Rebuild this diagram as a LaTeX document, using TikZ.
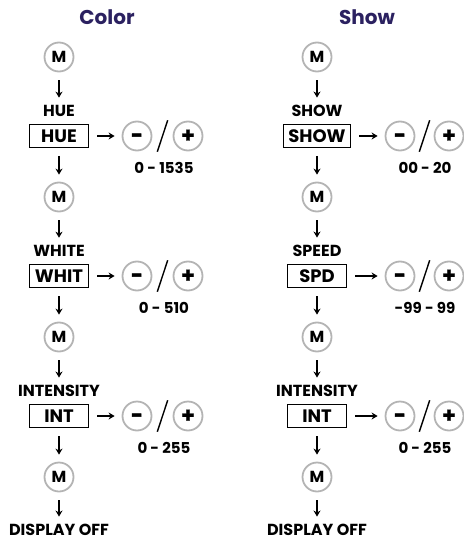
\documentclass[tikz,border=0pt]{standalone}
\usepackage{fontspec}
\setmainfont{Poppins}
\newfontfamily\keyfont{Poppins}[BoldFeatures={FakeBold=1.6}]
\usetikzlibrary{arrows.meta}
\definecolor{titleblue}{HTML}{2B2160}
\definecolor{ringgray}{HTML}{B4B4B4}
\begin{document}
\begin{tikzpicture}[x=1pt,y=-1pt,> = {Stealth[length=6pt,width=7pt]},line width=1.4pt,
	every node/.style={inner sep=0pt,font=\bfseries\fontsize{16}{16}\selectfont},
	heading/.style={font=\bfseries\fontsize{20}{20}\selectfont,text=titleblue},
	rangetext/.style={font=\bfseries\fontsize{15}{15}\selectfont},
	btn/.style={circle,draw=ringgray,line width=1.8pt,minimum size=29pt,font=\bfseries\fontsize{16}{16}\selectfont},
	key/.style={btn,font=\keyfont\bfseries\fontsize{21}{21}\selectfont,text height=13pt,text depth=0pt},
	modebox/.style={draw,line width=1pt,minimum width=59pt,minimum height=23pt,inner xsep=5pt,font=\bfseries\fontsize{18}{18}\selectfont},
	slashbox/.style={minimum width=9pt,minimum height=30pt},
	down/.style={->,shorten <=8pt,shorten >=7pt},
	side/.style={->,shorten <=8pt,shorten >=7pt}]
	\useasboundingbox (0,0) rectangle (463,540);

	% Color
	\node[heading] (tc) at (107,17) {Color};
	\node[btn] (cm1) at (59,57) {M};
	\node (cl1) at (59,111) {HUE};
	\node[modebox] (cb1) at (59,136) {HUE};
	\node[key] (cn1) at (137,136) {-};
	\node[slashbox] (cs1) at (162.5,136) {};
	\node[key] (cp1) at (188,136) {+};
	\node[rangetext] (cr1) at (164,168) {0 - 1535};
	\node[btn] (cm2) at (59,197) {M};
	\node (cl2) at (59,251) {WHITE};
	\node[modebox] (cb2) at (59,276) {WHIT};
	\node[key] (cn2) at (137,276) {-};
	\node[slashbox] (cs2) at (162.5,276) {};
	\node[key] (cp2) at (188,276) {+};
	\node[rangetext] (cr2) at (164,308) {0 - 510};
	\node[btn] (cm3) at (59,337) {M};
	\node (cl3) at (59,391) {INTENSITY};
	\node[modebox] (cb3) at (59,416) {INT};
	\node[key] (cn3) at (137,416) {-};
	\node[slashbox] (cs3) at (162.5,416) {};
	\node[key] (cp3) at (188,416) {+};
	\node[rangetext] (cr3) at (164,448) {0 - 255};
	\node[btn] (cm4) at (59,477) {M};
	\node (coff) at (59,530) {DISPLAY OFF};

	\draw[down] (cm1.south) -- (cl1.north);
	\draw[down] (cb1.south) -- (cm2.north);
	\draw[down] (cm2.south) -- (cl2.north);
	\draw[down] (cb2.south) -- (cm3.north);
	\draw[down] (cm3.south) -- (cl3.north);
	\draw[down] (cb3.south) -- (cm4.north);
	\draw[down] (cm4.south) -- (coff.north);
	\draw[side] (cb1.east) -- (cn1.west);
	\draw[side] (cb2.east) -- (cn2.west);
	\draw[side] (cb3.east) -- (cn3.west);
	\draw (cs1.north east) -- (cs1.south west);
	\draw (cs2.north east) -- (cs2.south west);
	\draw (cs3.north east) -- (cs3.south west);

	% Show
	\node[heading] (ts) at (367,17) {Show};
	\node[btn] (sm1) at (317,57) {M};
	\node (sl1) at (317,111) {SHOW};
	\node[modebox] (sb1) at (317,136) {SHOW};
	\node[key] (sn1) at (400,136) {-};
	\node[slashbox] (ss1) at (424.5,136) {};
	\node[key] (sp1) at (449,136) {+};
	\node[rangetext] (sr1) at (425,168) {00 - 20};
	\node[btn] (sm2) at (317,197) {M};
	\node (sl2) at (317,251) {SPEED};
	\node[modebox] (sb2) at (317,276) {SPD};
	\node[key] (sn2) at (400,276) {-};
	\node[slashbox] (ss2) at (424.5,276) {};
	\node[key] (sp2) at (449,276) {+};
	\node[rangetext] (sr2) at (425,308) {-99 - 99};
	\node[btn] (sm3) at (317,337) {M};
	\node (sl3) at (317,391) {INTENSITY};
	\node[modebox] (sb3) at (317,416) {INT};
	\node[key] (sn3) at (400,416) {-};
	\node[slashbox] (ss3) at (424.5,416) {};
	\node[key] (sp3) at (449,416) {+};
	\node[rangetext] (sr3) at (425,448) {0 - 255};
	\node[btn] (sm4) at (317,477) {M};
	\node (soff) at (317,530) {DISPLAY OFF};

	\draw[down] (sm1.south) -- (sl1.north);
	\draw[down] (sb1.south) -- (sm2.north);
	\draw[down] (sm2.south) -- (sl2.north);
	\draw[down] (sb2.south) -- (sm3.north);
	\draw[down] (sm3.south) -- (sl3.north);
	\draw[down] (sb3.south) -- (sm4.north);
	\draw[down] (sm4.south) -- (soff.north);
	\draw[side] (sb1.east) -- (sn1.west);
	\draw[side] (sb2.east) -- (sn2.west);
	\draw[side] (sb3.east) -- (sn3.west);
	\draw (ss1.north east) -- (ss1.south west);
	\draw (ss2.north east) -- (ss2.south west);
	\draw (ss3.north east) -- (ss3.south west);
\end{tikzpicture}
\end{document}
